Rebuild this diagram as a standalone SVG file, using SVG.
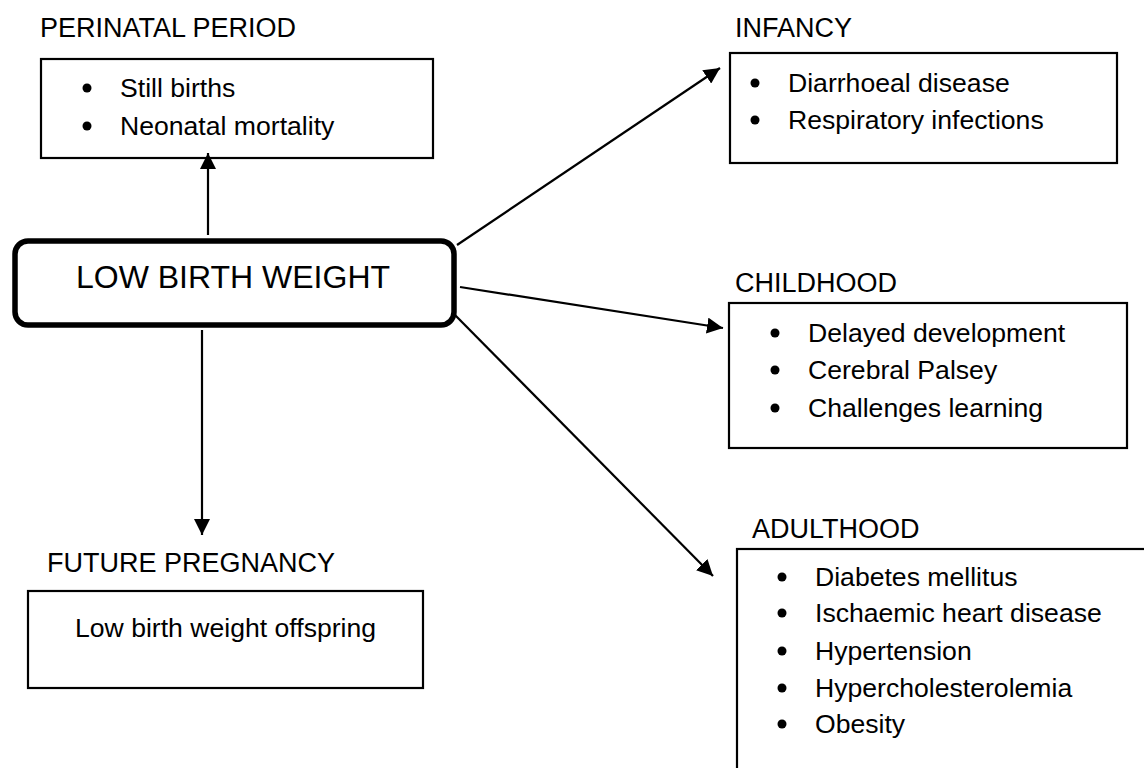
<svg xmlns="http://www.w3.org/2000/svg" width="1144" height="768" viewBox="0 0 1144 768">
  <defs>
    <style>
      text { font-family: "Liberation Sans", Arial, sans-serif; fill: #000; }
      .hdr { font-size: 27px; }
      .item { font-size: 26.6px; }
      .main { font-size: 32px; }
      .box { fill: #fff; stroke: #000; stroke-width: 2.2; }
      .link { fill: none; stroke: #000; stroke-width: 2.2; }
    </style>
    <marker id="arrow" markerUnits="userSpaceOnUse" markerWidth="16" markerHeight="16" viewBox="0 0 16 16" refX="16" refY="8" orient="auto">
      <path d="M0,0 L16,8 L0,16 Z" fill="#000"/>
    </marker>
  </defs>

  <rect width="1144" height="768" fill="#fff"/>

  <!-- Perinatal period -->
  <g id="perinatal">
    <text class="hdr" x="40" y="37">PERINATAL PERIOD</text>
    <rect class="box" x="41" y="59" width="392" height="99"/>
    <circle cx="87" cy="88" r="4.5"/>
    <text class="item" x="120" y="97">Still births</text>
    <circle cx="87" cy="126" r="4.5"/>
    <text class="item" x="120" y="135">Neonatal mortality</text>
  </g>

  <!-- Infancy -->
  <g id="infancy">
    <text class="hdr" x="735" y="37">INFANCY</text>
    <rect class="box" x="730" y="53" width="387" height="110"/>
    <circle cx="755" cy="83" r="4.5"/>
    <text class="item" x="788" y="92">Diarrhoeal disease</text>
    <circle cx="755" cy="120" r="4.5"/>
    <text class="item" x="788" y="129">Respiratory infections</text>
  </g>

  <!-- Central node -->
  <g id="low-birth-weight">
    <rect x="15" y="241" width="439" height="84" rx="13" fill="#fff" stroke="#000" stroke-width="5.5"/>
    <text class="main" x="233" y="288" text-anchor="middle">LOW BIRTH WEIGHT</text>
  </g>

  <!-- Childhood -->
  <g id="childhood">
    <text class="hdr" x="735" y="292">CHILDHOOD</text>
    <rect class="box" x="729" y="303" width="398" height="145"/>
    <circle cx="775" cy="333" r="4.5"/>
    <text class="item" x="808" y="342">Delayed development</text>
    <circle cx="775" cy="370" r="4.5"/>
    <text class="item" x="808" y="379">Cerebral Palsey</text>
    <circle cx="775" cy="408" r="4.5"/>
    <text class="item" x="808" y="417">Challenges learning</text>
  </g>

  <!-- Future pregnancy -->
  <g id="future-pregnancy">
    <text class="hdr" x="47" y="572">FUTURE PREGNANCY</text>
    <rect class="box" x="28" y="591" width="395" height="97"/>
    <text class="item" x="75" y="637">Low birth weight offspring</text>
  </g>

  <!-- Adulthood (box runs past the page edge) -->
  <g id="adulthood">
    <text class="hdr" x="752" y="538">ADULTHOOD</text>
    <rect class="box" x="737" y="549" width="420" height="240"/>
    <circle cx="782" cy="577" r="4.5"/>
    <text class="item" x="815" y="586">Diabetes mellitus</text>
    <circle cx="782" cy="613" r="4.5"/>
    <text class="item" x="815" y="622">Ischaemic heart disease</text>
    <circle cx="782" cy="651" r="4.5"/>
    <text class="item" x="815" y="660">Hypertension</text>
    <circle cx="782" cy="688" r="4.5"/>
    <text class="item" x="815" y="697">Hypercholesterolemia</text>
    <circle cx="782" cy="724" r="4.5"/>
    <text class="item" x="815" y="733">Obesity</text>
  </g>

  <!-- Connectors -->
  <g id="connectors">
    <line class="link" x1="208" y1="235" x2="208" y2="153" marker-end="url(#arrow)"/>
    <line class="link" x1="202" y1="330" x2="202" y2="535" marker-end="url(#arrow)"/>
    <line class="link" x1="457" y1="245" x2="720" y2="68" marker-end="url(#arrow)"/>
    <line class="link" x1="460" y1="287" x2="723" y2="328" marker-end="url(#arrow)"/>
    <line class="link" x1="455" y1="315" x2="713" y2="576" marker-end="url(#arrow)"/>
  </g>
</svg>
